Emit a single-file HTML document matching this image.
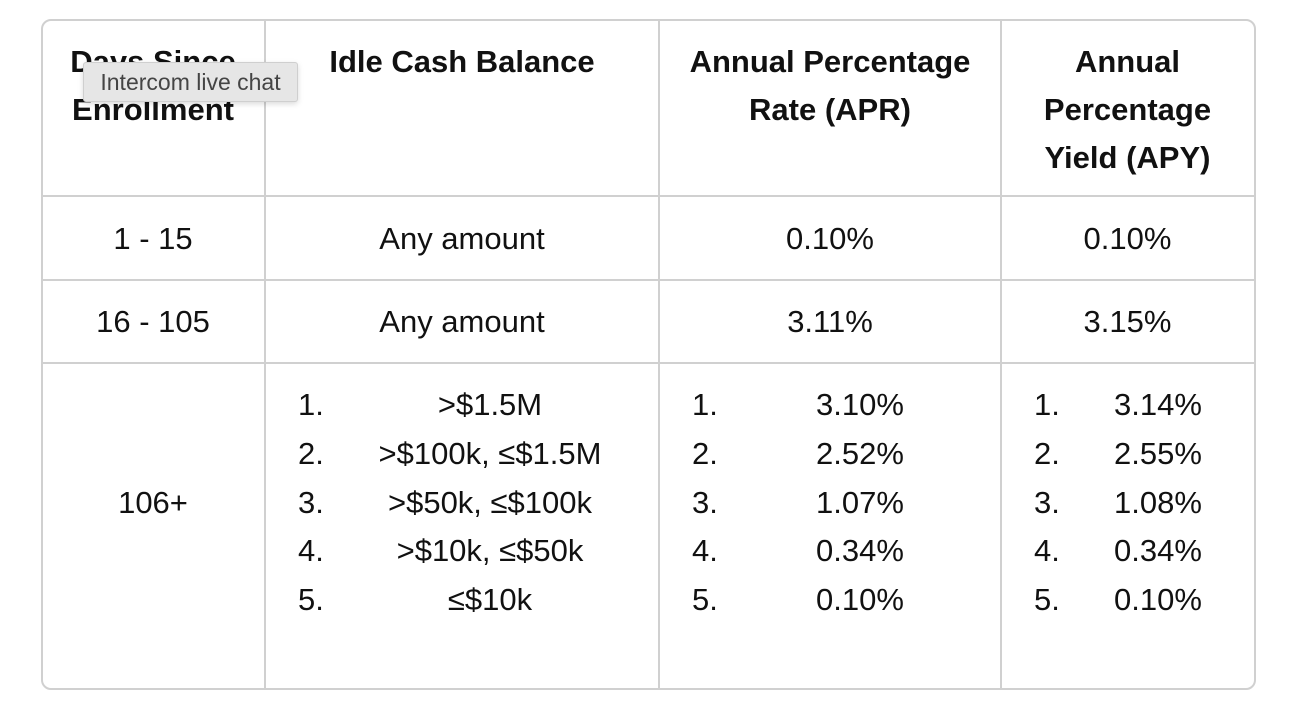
<!DOCTYPE html>
<html><head><meta charset="utf-8"><style>
body{margin:0;width:1290px;height:718px;background:#fff;position:relative;font-family:"Liberation Sans",sans-serif;color:#111;overflow:hidden}
.box{position:absolute;left:41px;top:19px;width:1211px;height:667px;border:2px solid #d0d0d0;border-radius:10px}
.v{position:absolute;top:19px;height:669px;width:2px;background:#d0d0d0}
.h{position:absolute;left:41px;width:1213px;height:2px;background:#d0d0d0}
.t{position:absolute;font-size:31px;line-height:48px;height:48px;text-align:center;white-space:nowrap}
.b{font-weight:bold;font-size:31px}
.tip{position:absolute;left:83px;top:62px;width:213px;height:38px;background:#e6e6e6;border:1px solid #cfcfcf;border-radius:3px;box-shadow:0 2px 6px rgba(0,0,0,.15);font-size:23px;line-height:38px;text-align:center;color:#444}
</style></head><body>
<div class="box"></div>
<div class="v" style="left:264px"></div>
<div class="v" style="left:658px"></div>
<div class="v" style="left:1000px"></div>
<div class="h" style="top:195px"></div>
<div class="h" style="top:279px"></div>
<div class="h" style="top:362px"></div>

<div class="t b" style="left:41px;width:224px;top:38px">Days Since</div>
<div class="t b" style="left:41px;width:224px;top:86px">Enrollment</div>
<div class="t b" style="left:265px;width:394px;top:38px">Idle Cash Balance</div>
<div class="t b" style="left:659px;width:342px;top:38px">Annual Percentage</div>
<div class="t b" style="left:659px;width:342px;top:86px">Rate (APR)</div>
<div class="t b" style="left:1001px;width:253px;top:38px">Annual</div>
<div class="t b" style="left:1001px;width:253px;top:86px">Percentage</div>
<div class="t b" style="left:1001px;width:253px;top:134px">Yield (APY)</div>

<div class="t" style="left:41px;width:224px;top:215px">1 - 15</div>
<div class="t" style="left:265px;width:394px;top:215px">Any amount</div>
<div class="t" style="left:659px;width:342px;top:215px">0.10%</div>
<div class="t" style="left:1001px;width:253px;top:215px">0.10%</div>

<div class="t" style="left:41px;width:224px;top:298px">16 - 105</div>
<div class="t" style="left:265px;width:394px;top:298px">Any amount</div>
<div class="t" style="left:659px;width:342px;top:298px">3.11%</div>
<div class="t" style="left:1001px;width:253px;top:298px">3.15%</div>

<div class="t" style="left:41px;width:224px;top:479px">106+</div>

<div class="t" style="left:298px;top:381px">1.</div>
<div class="t" style="left:298px;top:430px">2.</div>
<div class="t" style="left:298px;top:479px">3.</div>
<div class="t" style="left:298px;top:527px">4.</div>
<div class="t" style="left:298px;top:576px">5.</div>
<div class="t" style="left:340px;width:300px;top:381px">&gt;$1.5M</div>
<div class="t" style="left:340px;width:300px;top:430px">&gt;$100k, ≤$1.5M</div>
<div class="t" style="left:340px;width:300px;top:479px">&gt;$50k, ≤$100k</div>
<div class="t" style="left:340px;width:300px;top:527px">&gt;$10k, ≤$50k</div>
<div class="t" style="left:340px;width:300px;top:576px">≤$10k</div>

<div class="t" style="left:692px;top:381px">1.</div>
<div class="t" style="left:692px;top:430px">2.</div>
<div class="t" style="left:692px;top:479px">3.</div>
<div class="t" style="left:692px;top:527px">4.</div>
<div class="t" style="left:692px;top:576px">5.</div>
<div class="t" style="left:800px;width:120px;top:381px">3.10%</div>
<div class="t" style="left:800px;width:120px;top:430px">2.52%</div>
<div class="t" style="left:800px;width:120px;top:479px">1.07%</div>
<div class="t" style="left:800px;width:120px;top:527px">0.34%</div>
<div class="t" style="left:800px;width:120px;top:576px">0.10%</div>

<div class="t" style="left:1034px;top:381px">1.</div>
<div class="t" style="left:1034px;top:430px">2.</div>
<div class="t" style="left:1034px;top:479px">3.</div>
<div class="t" style="left:1034px;top:527px">4.</div>
<div class="t" style="left:1034px;top:576px">5.</div>
<div class="t" style="left:1098px;width:120px;top:381px">3.14%</div>
<div class="t" style="left:1098px;width:120px;top:430px">2.55%</div>
<div class="t" style="left:1098px;width:120px;top:479px">1.08%</div>
<div class="t" style="left:1098px;width:120px;top:527px">0.34%</div>
<div class="t" style="left:1098px;width:120px;top:576px">0.10%</div>

<div class="tip">Intercom live chat</div>
</body></html>
